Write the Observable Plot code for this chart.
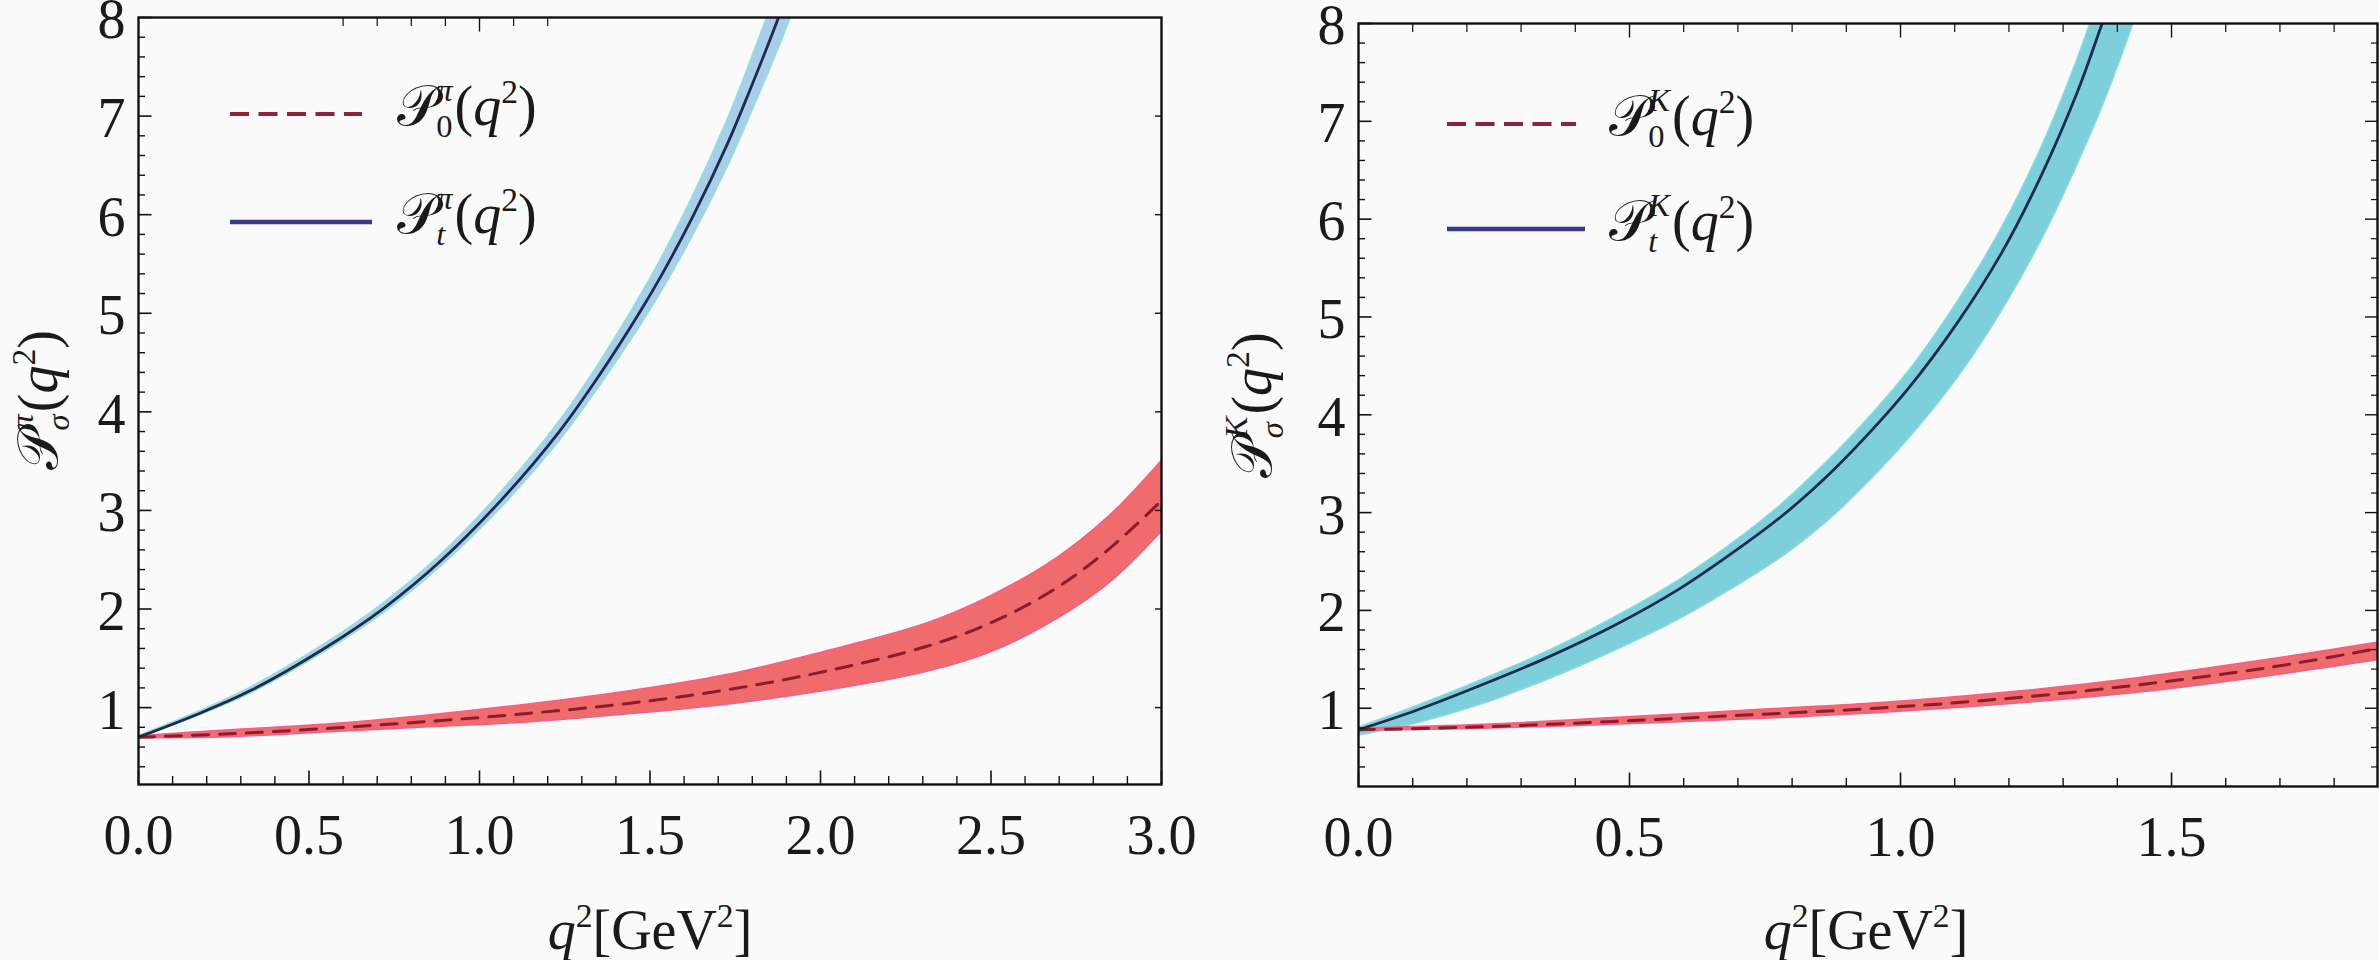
<!DOCTYPE html>
<html>
<head>
<meta charset="utf-8">
<script src="https://cdn.jsdelivr.net/npm/d3@7"></script>
<script src="https://cdn.jsdelivr.net/npm/@observablehq/plot@0.6"></script>
<style>
html, body { margin: 0; padding: 0; background: #fafafa; }
#wrap { position: relative; width: 2379px; height: 960px; overflow: hidden;
  font-family: "Liberation Serif", "Times New Roman", serif; color: #1a1a1a; }
.panel { position: absolute; top: 0; }
.lab { position: absolute; white-space: nowrap; font-size: 56px; line-height: 1; }
.P { font-family: "DejaVu Serif", "DejaVu Sans", "Noto Sans", serif; font-style: normal; }
.ss { display: inline-block; vertical-align: -0.36em; font-size: 0.58em; line-height: 1.12; margin-left: -0.02em; margin-right: 0.06em; }
.ss span { display: block; }
.s2 { font-size: 0.6em; vertical-align: 0.66em; line-height: 0; }
.par { font-style: normal; }
.rot { transform-origin: center center; transform: translate(-50%, -50%) rotate(-90deg); }
</style>
</head>
<body>
<div id="wrap"></div>
<script>
// ---------------- data ----------------
// pion, P_t
const qPiT  = [0, 0.171, 0.327, 0.540, 0.716, 0.890, 1.065, 1.234, 1.351, 1.468, 1.536, 1.624, 1.726, 1.789, 1.877, 1.920];
const piT   = [0.70, 0.93, 1.17, 1.59, 2.00, 2.50, 3.11, 3.80, 4.37, 5.00, 5.40, 5.97, 6.71, 7.23, 8.00, 8.41];
const piTlo = [0.69, 0.91, 1.14, 1.55, 1.95, 2.44, 3.03, 3.70, 4.25, 4.85, 5.23, 5.77, 6.47, 6.96, 7.68, 8.06];
const piThi = [0.71, 0.95, 1.20, 1.63, 2.05, 2.56, 3.19, 3.90, 4.49, 5.15, 5.57, 6.17, 6.95, 7.50, 8.32, 8.76];
// pion, P_0
const qPi0  = [0, 0.268, 0.560, 0.850, 1.140, 1.430, 1.725, 2.017, 2.310, 2.500, 2.695, 2.850, 3.000];
const pi0   = [0.70, 0.735, 0.79, 0.86, 0.94, 1.04, 1.18, 1.37, 1.62, 1.86, 2.22, 2.62, 3.10];
const pi0lo = [0.69, 0.700, 0.75, 0.80, 0.85, 0.93, 1.03, 1.17, 1.36, 1.56, 1.90, 2.27, 2.78];
const pi0hi = [0.71, 0.770, 0.83, 0.92, 1.03, 1.16, 1.33, 1.57, 1.85, 2.13, 2.52, 2.95, 3.50];
// kaon, P_t
const qKT  = [0, 0.107, 0.228, 0.349, 0.470, 0.592, 0.713, 0.780, 0.835, 0.897, 1.013, 1.106, 1.186, 1.260, 1.327, 1.372, 1.400, 1.430];
const kT   = [0.78, 0.98, 1.24, 1.52, 1.84, 2.22, 2.68, 2.96, 3.22, 3.55, 4.26, 4.95, 5.65, 6.45, 7.31, 8.00, 8.43, 8.93];
const kTlo = [0.72, 0.845, 1.04, 1.29, 1.58, 1.91, 2.30, 2.54, 2.77, 3.07, 3.74, 4.38, 5.05, 5.78, 6.56, 7.14, 7.54, 8.00];
const kThi = [0.80, 1.02, 1.29, 1.58, 1.92, 2.31, 2.78, 3.08, 3.36, 3.70, 4.43, 5.16, 5.90, 6.73, 7.64, 8.36, 8.85, 9.39];
// kaon, P_0
const qK0  = [0, 0.228, 0.470, 0.713, 0.956, 1.198, 1.441, 1.684, 1.880];
const k0   = [0.78, 0.81, 0.865, 0.93, 1.00, 1.10, 1.24, 1.42, 1.61];
const k0lo = [0.77, 0.79, 0.830, 0.885, 0.95, 1.04, 1.16, 1.33, 1.49];
const k0hi = [0.79, 0.83, 0.900, 0.975, 1.05, 1.16, 1.31, 1.50, 1.67];

// ticks
const xTicksPi = [0, 0.5, 1.0, 1.5, 2.0, 2.5, 3.0];
const xTicksK  = [0, 0.5, 1.0, 1.5];
const yTicks   = [1, 2, 3, 4, 5, 6, 7, 8];
const topMajorPi = [1.0];
const topMinorPi = [0.6, 0.7, 0.8, 0.9, 1.1, 1.2];

const xLabel = '<i>q</i><sup class="s2">2</sup>[GeV<sup class="s2">2</sup>]';
function pLabel(sup, sub) {
  return '<span class="P">\u{1D4AB}</span><span class="ss"><span><i>' + sup + '</i></span><span>' + sub +
    '</span></span><span class="par">(</span><i>q</i><sup class="s2">2</sup><span class="par">)</span>';
}

// ---------------- drawing ----------------
const H = 960;
const fmt1 = d3.format(".1f");
const fmt0 = d3.format("d");

function panel(o) {
  const rowsT = o.qT.map((q, i) => ({q, v: o.vT[i], lo: o.loT[i], hi: o.hiT[i]}));
  const rows0 = o.q0.map((q, i) => ({q, v: o.v0[i], lo: o.lo0[i], hi: o.hi0[i]}));
  const xMinor = d3.range(1, Math.round(o.xDomain[1] * 10) + 1).filter(i => i % 5).map(i => i / 10).filter(v => v < o.xDomain[1]);
  const yMinor = d3.range(1, 40).filter(i => i % 5).map(i => i / 5).filter(v => v > o.yDomain[0] && v < 8);
  const tick = {fill: "none", label: null, stroke: "#111"};
  return Plot.plot({
    width: o.width, height: H,
    marginLeft: o.ml, marginRight: o.mr, marginTop: o.mt, marginBottom: o.mb,
    style: {background: "transparent", fontFamily: '"Liberation Serif", serif', overflow: "visible", color: "#1a1a1a"},
    x: {domain: o.xDomain},
    y: {domain: o.yDomain},
    marks: [
      Plot.areaY(rowsT, {x: "q", y1: "lo", y2: "hi", fill: o.tFill, stroke: o.tEdge, strokeWidth: 1.5, curve: "catmull-rom", clip: true}),
      Plot.areaY(rows0, {x: "q", y1: "lo", y2: "hi", fill: "#ef6b6c", stroke: "#f95c86", strokeWidth: 1.5, curve: "catmull-rom", clip: true}),
      Plot.line(rows0, {x: "q", y: "v", stroke: "#8b1c2e", strokeWidth: 3, strokeDasharray: "16,11", curve: "catmull-rom", clip: true}),
      Plot.line(rowsT, {x: "q", y: "v", stroke: "#1f2a50", strokeWidth: 2.8, curve: "catmull-rom", clip: true}),
      Plot.axisX(o.xMajor, {...tick, anchor: "bottom", tickSize: -13.5, strokeWidth: 1.6}),
      Plot.axisX(xMinor, {...tick, anchor: "bottom", tickSize: -8, strokeWidth: 1.4}),
      Plot.axisX(o.topMajor, {...tick, anchor: "top", tickSize: -13.5, strokeWidth: 1.4}),
      Plot.axisX(o.topMinor, {...tick, anchor: "top", tickSize: -8, strokeWidth: 1.2}),
      Plot.axisY(yTicks, {...tick, anchor: "left", tickSize: -13.5, strokeWidth: 1.6}),
      Plot.axisY(yMinor, {...tick, anchor: "left", tickSize: -7, strokeWidth: 1.4}),
      Plot.axisY(o.rightMajor, {...tick, anchor: "right", tickSize: -o.rightLen, strokeWidth: 1.4}),
      Plot.axisY(o.rightMinor, {...tick, anchor: "right", tickSize: -7, strokeWidth: 1.2}),
      Plot.axisX(o.xMajor, {anchor: "bottom", tickSize: 0, tickPadding: 30, tickFormat: fmt1, fontSize: 56, fill: "#1a1a1a", label: null}),
      Plot.axisY(yTicks, {anchor: "left", tickSize: 0, tickPadding: 13, tickFormat: fmt0, fontSize: 56, fill: "#1a1a1a", label: null, dy: 3}),
      Plot.frame({stroke: "#111", strokeWidth: 2.4})
    ]
  });
}

const wrap = document.getElementById("wrap");
function place(el, left) { el.classList.add("panel"); el.style.left = left + "px"; wrap.appendChild(el); }

place(panel({
  width: 1200, ml: 138, mr: 39, mt: 17, mb: 176,
  xDomain: [0, 3.0], yDomain: [0.22, 8],
  qT: qPiT, vT: piT, loT: piTlo, hiT: piThi,
  q0: qPi0, v0: pi0, lo0: pi0lo, hi0: pi0hi,
  tFill: "#a8cfe9", tEdge: "#93e0d8",
  xMajor: xTicksPi, topMajor: topMajorPi, topMinor: topMinorPi,
  rightMajor: yTicks.slice(0, 7), rightLen: 7, rightMinor: []
}), 0);

place(panel({
  width: 1179, ml: 158, mr: 2, mt: 23, mb: 174,
  xDomain: [0, 1.88], yDomain: [0.2, 8],
  qT: qKT, vT: kT, loT: kTlo, hiT: kThi,
  q0: qK0, v0: k0, lo0: k0lo, hi0: k0hi,
  tFill: "#7dcfdc", tEdge: "#86dcd8",
  xMajor: xTicksK, topMajor: xTicksK.slice(1),
  topMinor: d3.range(1, 19).filter(i => i % 5).map(i => i / 10),
  rightMajor: yTicks.slice(0, 7), rightLen: 13,
  rightMinor: d3.range(1, 40).filter(i => i % 5).map(i => i / 5).filter(v => v > 0.2 && v < 8)
}), 1200);

// ---------------- text labels & legends ----------------
function label(html, x, y, cls) {
  const d = document.createElement("div");
  d.className = "lab" + (cls ? " " + cls : "");
  d.innerHTML = html;
  d.style.left = x + "px"; d.style.top = y + "px";
  wrap.appendChild(d);
  return d;
}
// axis titles
const xt1 = label(xLabel, 650, 930); xt1.style.transform = "translate(-50%,-50%)";
const xt2 = label(xLabel, 1866, 930); xt2.style.transform = "translate(-50%,-50%)";
label(pLabel("\u03c0", "<i>\u03c3</i>"), 40, 400, "rot");
label(pLabel("K", "<i>\u03c3</i>"), 1254, 405, "rot");

// legends
function legend(x0, yDash, ySolid, x1d, x1s, xText, sup) {
  const svg = d3.select(wrap).append("svg")
    .style("position", "absolute").style("left", 0).style("top", 0)
    .attr("width", 2379).attr("height", 960).style("pointer-events", "none");
  svg.append("line").attr("x1", x0).attr("x2", x1d).attr("y1", yDash).attr("y2", yDash)
    .attr("stroke", "#8a2437").attr("stroke-width", 4).attr("stroke-dasharray", "19,9.5");
  svg.append("line").attr("x1", x0).attr("x2", x1s).attr("y1", ySolid).attr("y2", ySolid)
    .attr("stroke", "#3a3a8c").attr("stroke-width", 4.5);
  const a = label(pLabel(sup, "0"), xText, yDash); a.style.transform = "translateY(-58%)";
  const b = label(pLabel(sup, "<i>t</i>"), xText, ySolid); b.style.transform = "translateY(-58%)";
}
legend(230, 114, 222, 362, 372, 397, "\u03c0");
legend(1447, 124, 229, 1576, 1585, 1609, "K");
</script>
</body>
</html>
